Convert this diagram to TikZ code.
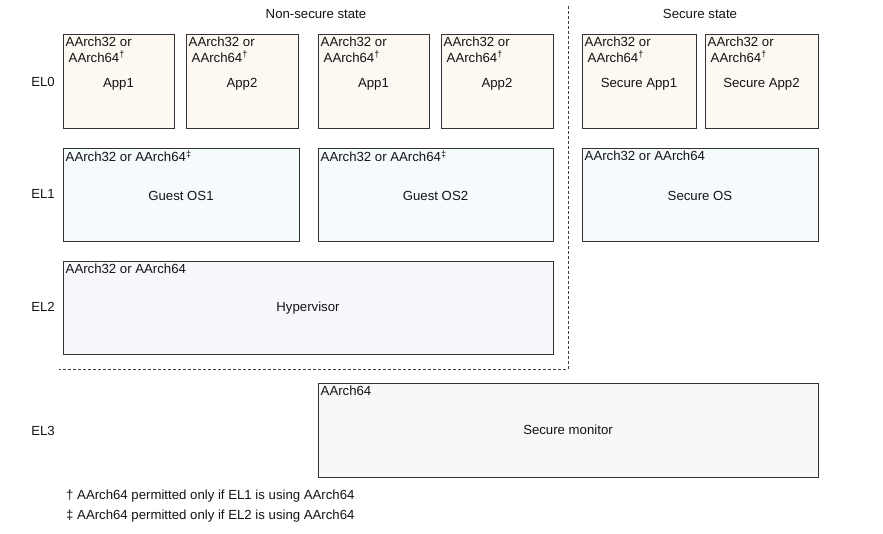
\documentclass[tikz,border=0pt]{standalone}
\usepackage{fontspec}
\setmainfont{Liberation Sans}
\definecolor{appc}{HTML}{FDF8F1}
\definecolor{osc}{HTML}{F5FAFD}
\definecolor{hypc}{HTML}{F7F8FD}
\definecolor{monc}{HTML}{F7F9F6}
\definecolor{edge}{HTML}{333333}
\definecolor{txt}{HTML}{141414}
\begin{document}
\begin{tikzpicture}[x=1pt,y=-1pt,
  every node/.style={font=\fontsize{13.2pt}{15pt}\selectfont, text=txt},
  box/.style={draw=edge, line width=0.9pt, inner sep=0pt, outer sep=0pt, anchor=north west},
  tl/.style={anchor=north west, inner sep=2.5pt, align=left, font=\fontsize{13.2pt}{16pt}\selectfont},
  ell/.style={anchor=center},
  sep/.style={draw=black!75, line width=0.8pt, dash pattern=on 3pt off 2pt}]
\useasboundingbox (0,0) rectangle (883,534);
% headers
\node (ns) at (316,14) {Non-secure state};
\node (ss) at (700,14) {Secure state};
% EL labels
\node[ell] (el0) at (43,82) {EL0};
\node[ell] (el1) at (43,194) {EL1};
\node[ell] (el2) at (43,307) {EL2};
\node[ell] (el3) at (43,431) {EL3};
% EL0 apps
\node[box, fill=appc, minimum width=111pt, minimum height=94pt] (a1) at (63,34) {};
\node[box, fill=appc, minimum width=112pt, minimum height=94pt] (a2) at (186,34) {};
\node[box, fill=appc, minimum width=111pt, minimum height=94pt] (a3) at (318,34) {};
\node[box, fill=appc, minimum width=112pt, minimum height=94pt] (a4) at (441,34) {};
\node[box, fill=appc, minimum width=114pt, minimum height=94pt] (s1) at (582,34) {};
\node[box, fill=appc, minimum width=113pt, minimum height=94pt] (s2) at (705,34) {};
\foreach \b in {a1,a2,a3,a4,s1,s2}{
  \node[tl] (\b t) at (\b.north west) {AArch32 or\\\hspace*{3pt}AArch64\textsuperscript{†}};
}
\node (a1n) at ([yshift=-3pt]a1.center) {App1};
\node (a2n) at ([yshift=-3pt]a2.center) {App2};
\node (a3n) at ([yshift=-3pt]a3.center) {App1};
\node (a4n) at ([yshift=-3pt]a4.center) {App2};
\node (s1n) at ([yshift=-3pt]s1.center) {Secure App1};
\node (s2n) at ([yshift=-3pt]s2.center) {Secure App2};
% EL1
\node[box, fill=osc, minimum width=236pt, minimum height=93pt] (g1) at (63,148) {};
\node[box, fill=osc, minimum width=235pt, minimum height=93pt] (g2) at (318,148) {};
\node[box, fill=osc, minimum width=236pt, minimum height=93pt] (sos) at (582,148) {};
\node[tl] (g1t) at (g1.north west) {AArch32 or AArch64\textsuperscript{‡}};
\node[tl] (g2t) at (g2.north west) {AArch32 or AArch64\textsuperscript{‡}};
\node[tl] (sost) at (sos.north west) {AArch32 or AArch64};
\node (g1n) at ([yshift=-1pt]g1.center) {Guest OS1};
\node (g2n) at ([yshift=-1pt]g2.center) {Guest OS2};
\node (sosn) at ([yshift=-1pt]sos.center) {Secure OS};
% EL2
\node[box, fill=hypc, minimum width=490pt, minimum height=93pt] (hyp) at (63,261) {};
\node[tl] (hypt) at (hyp.north west) {AArch32 or AArch64};
\node (hypn) at ([yshift=-1pt]hyp.center) {Hypervisor};
% EL3
\node[box, fill=monc, minimum width=500pt, minimum height=94pt] (mon) at (318,383) {};
\node[tl] (mont) at (mon.north west) {AArch64};
\node (monn) at (mon.center) {Secure monitor};
% separators
\coordinate (d0) at (568,6);
\coordinate (d1) at (568,369);
\coordinate (d2) at (59,369);
\draw[sep] (d0) -- (d1) -- (d2);
% footnotes
\node[anchor=west, inner sep=0pt] (f1) at (66,496) {† AArch64 permitted only if EL1 is using AArch64};
\node[anchor=west, inner sep=0pt] (f2) at (66,516) {‡ AArch64 permitted only if EL2 is using AArch64};
\end{tikzpicture}
\end{document}
